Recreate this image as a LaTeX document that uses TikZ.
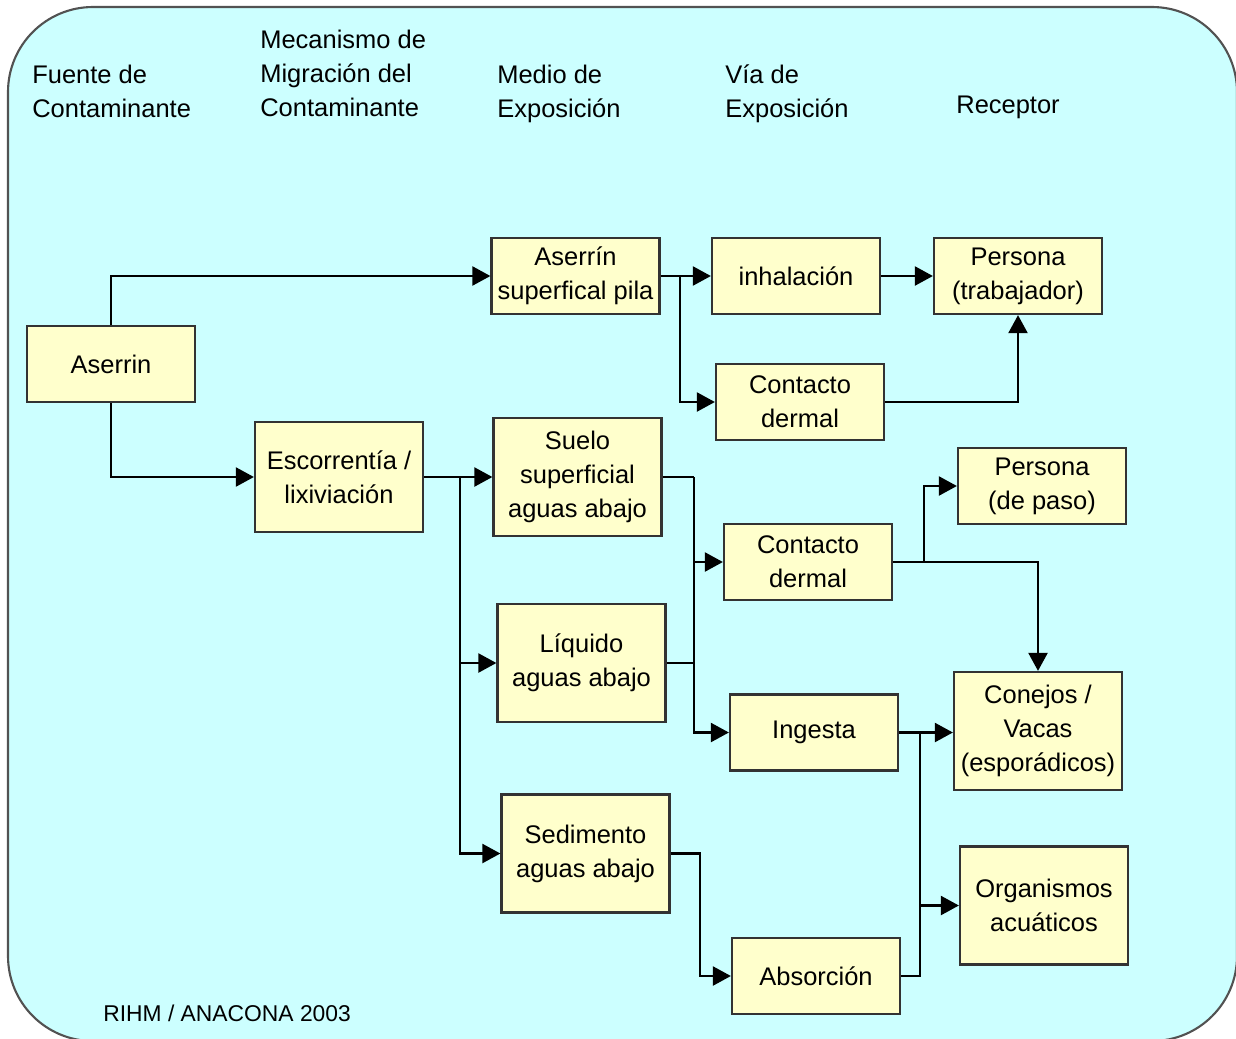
\documentclass[tikz,border=0pt]{standalone}
\usepackage{fontspec}
\setmainfont{Liberation Sans}
\usepackage{xcolor}
\usetikzlibrary{positioning,arrows.meta}

\definecolor{sky}{RGB}{204,255,255}
\definecolor{cream}{RGB}{255,255,204}
\definecolor{edge}{RGB}{51,51,51}

\begin{document}
\begin{tikzpicture}[x=0.02cm, y=-0.02cm,
    font=\fontsize{14.5}{19.4}\selectfont,
    box/.style={draw=edge, fill=cream, line width=1.3pt, minimum width=3.36cm,
        minimum height=1.52cm, align=center, inner sep=1pt},
    tall/.style={box, minimum height=2.36cm},
    head/.style={anchor=west, align=left, inner sep=0pt},
    wire/.style={line width=1.3pt},
    link/.style={wire, -{Triangle[length=0.36cm, width=0.38cm]}}]
    \useasboundingbox (0,0) rectangle (1236,1038);

    % Background panel
    \begin{scope}
        \clip (0,0) rectangle (1236,1038);
        \draw[fill=sky, draw=edge!85, line width=1.2pt, rounded corners=1.7cm] (8,7) rectangle (1237,1041);
    \end{scope}

    % Column headings
    \node[head] (hsrc) at (32,91) {Fuente de\\Contaminante};
    \node[head] (hmig) at (260,73.5) {Mecanismo de\\Migración del\\Contaminante};
    \node[head] (hmed) at (497,93.5) {Medio de\\Exposición};
    \node[head] (hvia) at (725,93.5) {Vía de\\Exposición};
    \node[head] (hrec) at (956,107) {Receptor};

    % Boxes
    \node[box] (src) at (111,364) {Aserrin};
    \node[box] (pila) at (575.5,276) {Aserrín\\superfical pila};
    \node[box] (inh) at (796,276) {inhalación};
    \node[box] (pt) at (1018,276) {Persona\\(trabajador)};
    \node[box] (cd1) at (800,402) {Contacto\\dermal};
    \node[box, minimum height=2.2cm] (esc) at (339,477) {Escorrentía /\\lixiviación};
    \node[tall] (suelo) at (577.5,477) {Suelo\\superficial\\aguas abajo};
    \node[box] (pp) at (1042,486) {Persona\\(de paso)};
    \node[box] (cd2) at (808,562) {Contacto\\dermal};
    \node[tall] (liq) at (581.5,663) {Líquido\\aguas abajo};
    \node[box] (ing) at (814,732.5) {Ingesta};
    \node[tall] (cj) at (1038,731) {Conejos /\\Vacas\\(esporádicos)};
    \node[tall] (sed) at (585.5,853.5) {Sedimento\\aguas abajo};
    \node[tall] (org) at (1044,905.5) {Organismos\\acuáticos};
    \node[box] (abs) at (816,976) {Absorción};

    % Junctions
    \coordinate (j1) at (680,276);
    \coordinate (j2) at (460,477);
    \coordinate (j3) at (694,477);
    \coordinate (j4) at (700,853.5);
    \coordinate (j5) at (924,562);
    \coordinate (j6) at (920,732.5);

    % Connectors
    \draw[link] (src.north) |- (pila.west);
    \draw[link] (src.south) |- (esc.west);
    \draw[link] (pila.east) -- (inh.west);
    \draw[link] (j1) |- (cd1.west);
    \draw[link] (inh.east) -- (pt.west);
    \draw[link] (cd1.east) -| (pt.south);
    \draw[link] (esc.east) -- (suelo.west);
    \draw[link] (j2) |- (liq.west);
    \draw[link] (j2) |- (sed.west);
    \draw[wire] (suelo.east) -- (j3);
    \draw[link] (j3) |- (cd2.west);
    \draw[link] (j3) |- (ing.west);
    \draw[wire] (liq.east) -- (liq.east -| j3);
    \draw[link] (sed.east) -- (j4) |- (abs.west);
    \draw[link] (cd2.east) -| (cj.north);
    \draw[link] (j5) |- (pp.west);
    \draw[link] (ing.east) -- (ing.east -| cj.west);
    \draw[link] (j6) |- (org.west);
    \draw[wire] (abs.east) -| (j6);

    % Credit
    \node[anchor=west, inner sep=0pt, font=\fontsize{13}{15}\selectfont] (credit) at (103,1013) {RIHM / ANACONA 2003};
\end{tikzpicture}
\end{document}
